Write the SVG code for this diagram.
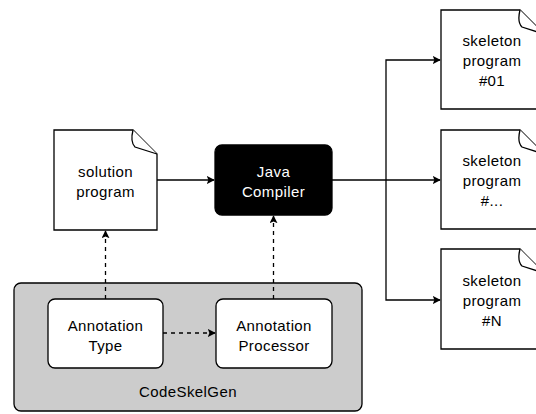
<svg xmlns="http://www.w3.org/2000/svg" width="536" height="414" viewBox="0 0 536 414">
  <defs>
    <marker id="arrow" viewBox="0 0 10 10" refX="9" refY="5" markerWidth="8" markerHeight="8" markerUnits="userSpaceOnUse" orient="auto">
      <path d="M0,0 L10,5 L0,10 L2,5 Z" fill="#000"/>
    </marker>
    <style>
      .doc { fill: #fff; stroke: #000; stroke-width: 1.3; }
      .box { fill: #fff; stroke: #000; stroke-width: 1.3; }
      .edge { fill: none; stroke: #000; stroke-width: 1.3; marker-end: url(#arrow); }
      .dash { stroke-dasharray: 4 4; }
      text { font-family: "Liberation Sans", Arial, sans-serif; font-size: 15px; letter-spacing: 0.4px; text-anchor: middle; fill: #000; }
      .light { fill: #fff; }
    </style>
  </defs>

  <!-- container -->
  <g id="codeskelgen">
    <rect x="14" y="283" width="348" height="128" rx="7" fill="#cccccc" stroke="#000" stroke-width="1.3"/>
    <text x="188" y="397">CodeSkelGen</text>
  </g>

  <g id="annotation-type">
    <rect class="box" x="48" y="299" width="115" height="69" rx="7"/>
    <text x="105.5" y="331">Annotation</text>
    <text x="105.5" y="351">Type</text>
  </g>

  <g id="annotation-processor">
    <rect class="box" x="216" y="299" width="116" height="69" rx="7"/>
    <text x="274" y="331">Annotation</text>
    <text x="274" y="351">Processor</text>
  </g>

  <g id="solution-program">
    <path class="doc" d="M54,130 H133 L157,154 V230 H54 Z"/>
    <path class="doc" d="M133,130 C131,138 132,144 135,147 L157,154"/>
    <text x="105.5" y="177">solution</text>
    <text x="105.5" y="197">program</text>
  </g>

  <g id="java-compiler">
    <rect x="215" y="145" width="117" height="70" rx="7" fill="#000" stroke="#000" stroke-width="1.3"/>
    <text class="light" x="273.5" y="177">Java</text>
    <text class="light" x="273.5" y="197">Compiler</text>
  </g>

  <g id="skeleton-01">
    <path class="doc" d="M441,10 H520 L544,34 V109 H441 Z"/>
    <path class="doc" d="M520,10 C518,18 519,24 522,27 L544,34"/>
    <text x="492" y="46">skeleton</text>
    <text x="492" y="66">program</text>
    <text x="492" y="86">#01</text>
  </g>

  <g id="skeleton-dots">
    <path class="doc" d="M441,130 H520 L544,154 V229 H441 Z"/>
    <path class="doc" d="M520,130 C518,138 519,144 522,147 L544,154"/>
    <text x="492" y="166">skeleton</text>
    <text x="492" y="186">program</text>
    <text x="492" y="206">#...</text>
  </g>

  <g id="skeleton-n">
    <path class="doc" d="M441,249 H520 L544,273 V349 H441 Z"/>
    <path class="doc" d="M520,249 C518,257 519,263 522,266 L544,273"/>
    <text x="492" y="286">skeleton</text>
    <text x="492" y="306">program</text>
    <text x="492" y="326">#N</text>
  </g>

  <g id="connectors">
    <path class="edge" d="M157,180 H214"/>
    <path class="edge" d="M332,180 H440"/>
    <path class="edge" d="M386,180 V60 H440"/>
    <path class="edge" d="M386,180 V300 H440"/>
    <path class="edge dash" d="M163,333 H215"/>
    <path class="edge dash" d="M105.5,299 V231"/>
    <path class="edge dash" d="M273.5,299 V216"/>
  </g>
</svg>
